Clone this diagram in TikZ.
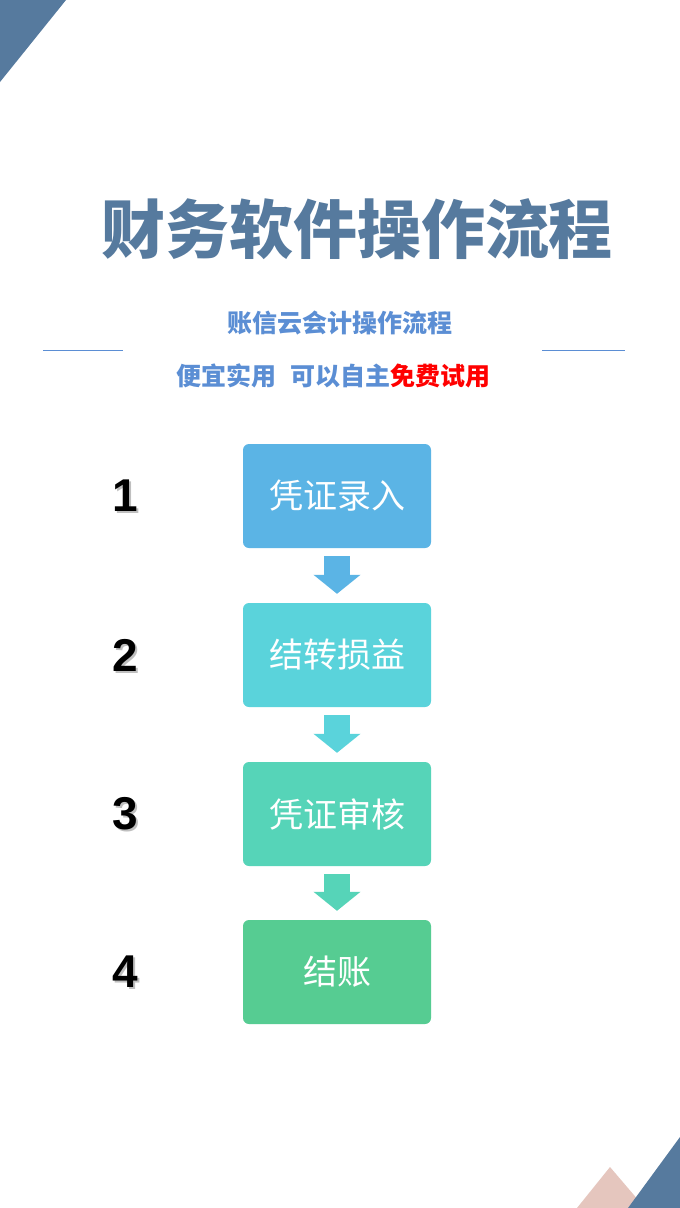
\documentclass[tikz,border=0pt]{standalone}
\usepackage{fontspec}
\setmainfont{Liberation Sans}
\newfontfamily\cjk{Noto Sans CJK SC}
\usetikzlibrary{arrows.meta}
\definecolor{deco}{HTML}{567A9E}
\definecolor{pinkdeco}{HTML}{E5C6BE}
\definecolor{sub}{HTML}{5B8ED4}
\definecolor{stepa}{HTML}{5BB4E5}
\definecolor{stepb}{HTML}{5AD3DB}
\definecolor{stepc}{HTML}{56D4B8}
\definecolor{stepd}{HTML}{56CC92}
\begin{document}
\begin{tikzpicture}[x=1pt, y=-1pt,
    stepbox/.style = {rounded corners=6pt, minimum width=188pt, minimum height=104pt, text=white, font=\cjk\fontsize{34}{34}\selectfont},
    num/.style = {font=\bfseries\fontsize{46}{46}\selectfont}]
    \useasboundingbox (0,0) rectangle (680,1208);
    \fill[white] (0,0) rectangle (680,1208);
    \fill[deco] (0,0) -- (66,0) -- (0,82) -- cycle;
    \fill[pinkdeco] (577,1208) -- (610,1167) -- (645,1208) -- cycle;
    \fill[deco] (680,1137) -- (680,1208) -- (628,1208) -- cycle;
    \node[text=deco, font=\cjk\bfseries\fontsize{64}{64}\selectfont] (title) at (357,229) {财务软件操作流程};
    \node[text=sub, font=\cjk\bfseries\fontsize{25}{25}\selectfont] (sub1) at (340,323) {账信云会计操作流程};
    \node[text=sub, font=\cjk\bfseries\fontsize{25}{25}\selectfont] (sub2) at (333,376) {便宜实用\hspace{14pt}可以自主\textcolor{red}{免费试用}};
    \coordinate (la) at (43,350); \coordinate (lb) at (123,350);
    \coordinate (ra) at (542,350); \coordinate (rb) at (625,350);
    \draw[sub, thick] (la) -- (lb);
    \draw[sub, thick] (ra) -- (rb);
    \node[stepbox, fill=stepa] (s1) at (337,496) {凭证录入};
    \node[stepbox, fill=stepb] (s2) at (337,655) {结转损益};
    \node[stepbox, fill=stepc] (s3) at (337,814) {凭证审核};
    \node[stepbox, fill=stepd] (s4) at (337,972) {结账};
    \foreach \n/\y in {1/496,2/655,3/814,4/972}
        {\node[num, text=black!25] at (127,\y+2) {\n};
        \node[num] (n\n) at (125,\y) {\n};}
    \foreach \a/\b/\c in {s1/s2/stepa,s2/s3/stepb,s3/s4/stepc}
        \draw[line width=26pt, \c, -{Triangle[length=19pt, width=46pt]}, shorten <=8pt, shorten >=9pt] (\a.south) -- (\b.north);
\end{tikzpicture}
\end{document}
